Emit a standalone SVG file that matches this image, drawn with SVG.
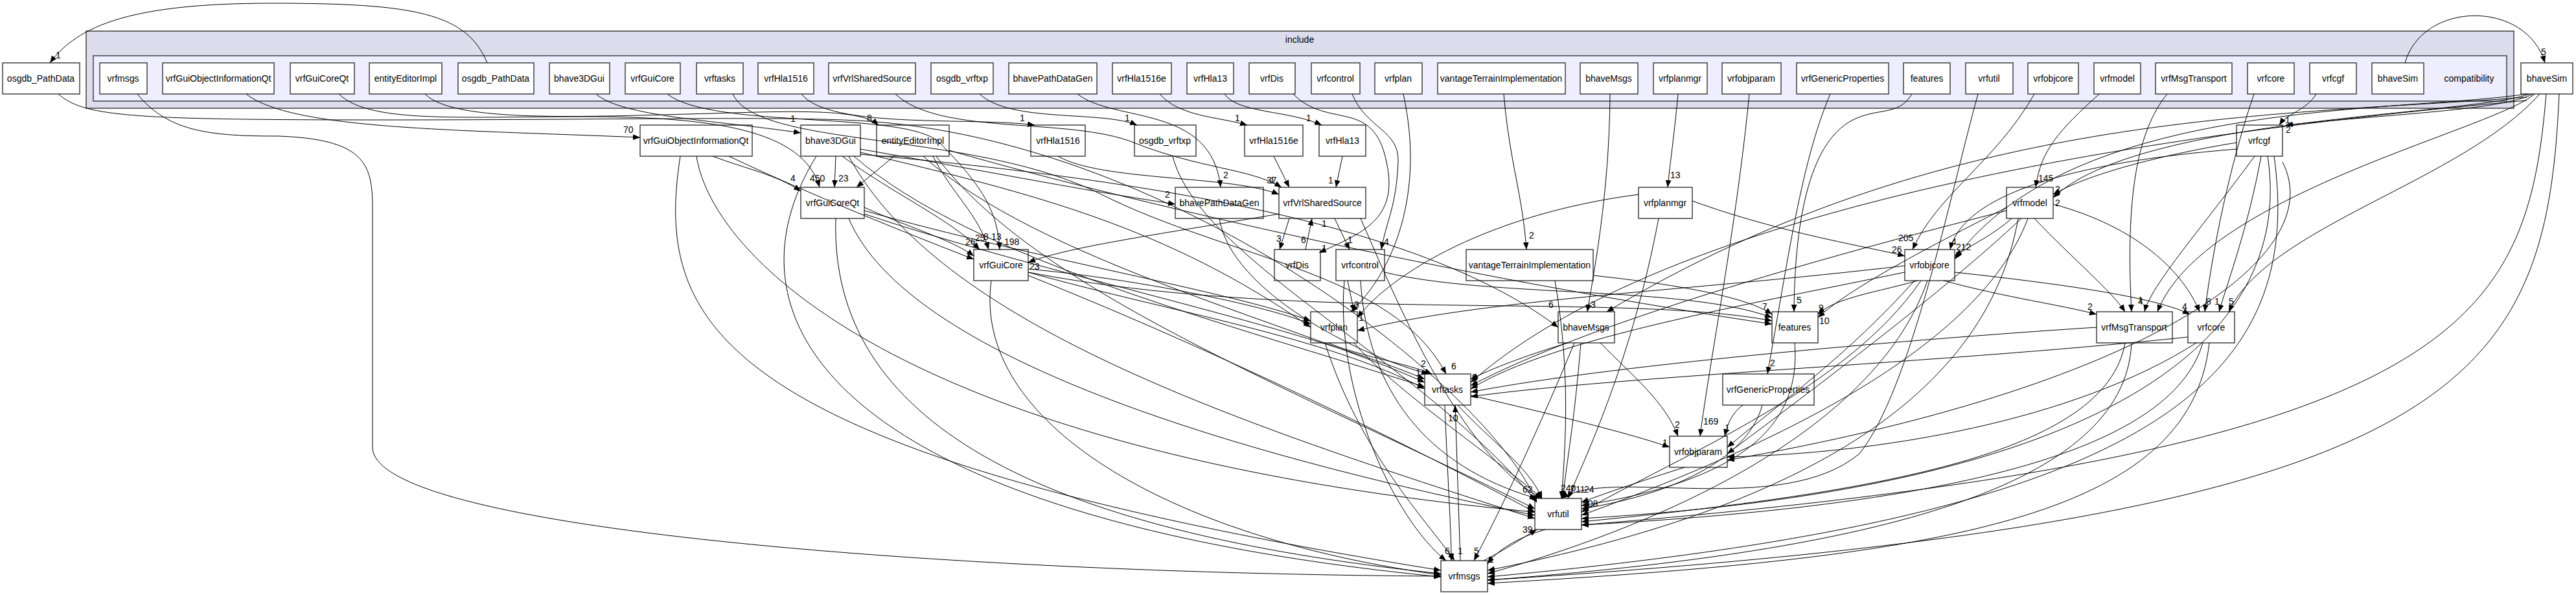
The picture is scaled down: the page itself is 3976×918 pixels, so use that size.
<svg xmlns="http://www.w3.org/2000/svg" width="3976" height="918" viewBox="0 0 3976 918">
<style>
text{font-family:"Liberation Sans",Arial,sans-serif;font-size:14px;fill:#000}
.n rect{fill:#fff;stroke:#404040;stroke-width:1.5}
.c{fill:none;stroke:#000;stroke-width:1}
.l{font-size:13px}
</style>
<defs><marker id="a" viewBox="0 0 10 10" refX="10" refY="5" markerWidth="11" markerHeight="11" markerUnits="userSpaceOnUse" orient="auto"><path d="M0,1 L10,5 L0,9z" fill="#000"/></marker></defs>
<rect width="3976" height="918" fill="#fff"/>
<g id="cluster-include"><rect x="133" y="48" width="3747" height="119" fill="#ddddee" stroke="#404040" stroke-width="1.5"/><text x="2006" y="66" text-anchor="middle">include</text></g>
<g id="cluster-compatibility"><rect x="144" y="86" width="3725" height="70" fill="#eeeeff" stroke="#404040" stroke-width="1.5"/><text x="3811" y="126" text-anchor="middle">compatibility</text></g>
<g text-anchor="middle">
<g id="i_vrfmsgs" class="n"><rect x="154" y="97" width="73" height="48"/><text x="190" y="126">vrfmsgs</text></g>
<g id="i_vrfGuiObjectInformationQt" class="n"><rect x="251" y="97" width="172" height="48"/><text x="337" y="126">vrfGuiObjectInformationQt</text></g>
<g id="i_vrfGuiCoreQt" class="n"><rect x="448" y="97" width="99" height="48"/><text x="497" y="126">vrfGuiCoreQt</text></g>
<g id="i_entityEditorImpl" class="n"><rect x="570" y="97" width="112" height="48"/><text x="626" y="126">entityEditorImpl</text></g>
<g id="i_osgdb_PathData" class="n"><rect x="707" y="97" width="117" height="48"/><text x="765" y="126">osgdb_PathData</text></g>
<g id="i_bhave3DGui" class="n"><rect x="848" y="97" width="93" height="48"/><text x="894" y="126">bhave3DGui</text></g>
<g id="i_vrfGuiCore" class="n"><rect x="965" y="97" width="85" height="48"/><text x="1007" y="126">vrfGuiCore</text></g>
<g id="i_vrftasks" class="n"><rect x="1075" y="97" width="72" height="48"/><text x="1111" y="126">vrftasks</text></g>
<g id="i_vrfHla1516" class="n"><rect x="1170" y="97" width="86" height="48"/><text x="1213" y="126">vrfHla1516</text></g>
<g id="i_vrfVrlSharedSource" class="n"><rect x="1279" y="97" width="134" height="48"/><text x="1346" y="126">vrfVrlSharedSource</text></g>
<g id="i_osgdb_vrftxp" class="n"><rect x="1437" y="97" width="96" height="48"/><text x="1485" y="126">osgdb_vrftxp</text></g>
<g id="i_bhavePathDataGen" class="n"><rect x="1557" y="97" width="136" height="48"/><text x="1625" y="126">bhavePathDataGen</text></g>
<g id="i_vrfHla1516e" class="n"><rect x="1717" y="97" width="91" height="48"/><text x="1762" y="126">vrfHla1516e</text></g>
<g id="i_vrfHla13" class="n"><rect x="1832" y="97" width="72" height="48"/><text x="1868" y="126">vrfHla13</text></g>
<g id="i_vrfDis" class="n"><rect x="1928" y="97" width="71" height="48"/><text x="1963" y="126">vrfDis</text></g>
<g id="i_vrfcontrol" class="n"><rect x="2024" y="97" width="75" height="48"/><text x="2061" y="126">vrfcontrol</text></g>
<g id="i_vrfplan" class="n"><rect x="2122" y="97" width="73" height="48"/><text x="2158" y="126">vrfplan</text></g>
<g id="i_vantageTerrainImplementation" class="n"><rect x="2219" y="97" width="197" height="48"/><text x="2317" y="126">vantageTerrainImplementation</text></g>
<g id="i_bhaveMsgs" class="n"><rect x="2439" y="97" width="89" height="48"/><text x="2483" y="126">bhaveMsgs</text></g>
<g id="i_vrfplanmgr" class="n"><rect x="2552" y="97" width="83" height="48"/><text x="2593" y="126">vrfplanmgr</text></g>
<g id="i_vrfobjparam" class="n"><rect x="2658" y="97" width="91" height="48"/><text x="2703" y="126">vrfobjparam</text></g>
<g id="i_vrfGenericProperties" class="n"><rect x="2773" y="97" width="142" height="48"/><text x="2844" y="126">vrfGenericProperties</text></g>
<g id="i_features" class="n"><rect x="2938" y="97" width="72" height="48"/><text x="2974" y="126">features</text></g>
<g id="i_vrfutil" class="n"><rect x="3034" y="97" width="73" height="48"/><text x="3070" y="126">vrfutil</text></g>
<g id="i_vrfobjcore" class="n"><rect x="3130" y="97" width="78" height="48"/><text x="3169" y="126">vrfobjcore</text></g>
<g id="i_vrfmodel" class="n"><rect x="3232" y="97" width="72" height="48"/><text x="3268" y="126">vrfmodel</text></g>
<g id="i_vrfMsgTransport" class="n"><rect x="3327" y="97" width="118" height="48"/><text x="3386" y="126">vrfMsgTransport</text></g>
<g id="i_vrfcore" class="n"><rect x="3469" y="97" width="72" height="48"/><text x="3505" y="126">vrfcore</text></g>
<g id="i_vrfcgf" class="n"><rect x="3565" y="97" width="72" height="48"/><text x="3601" y="126">vrfcgf</text></g>
<g id="i_bhaveSim" class="n"><rect x="3661" y="97" width="80" height="48"/><text x="3701" y="126">bhaveSim</text></g>

<g id="osgdb_PathData" class="n"><rect x="4" y="97" width="119" height="48"/><text x="63" y="126">osgdb_PathData</text></g>
<g id="bhaveSim" class="n"><rect x="3891" y="97" width="80" height="48"/><text x="3931" y="126">bhaveSim</text></g>
<g id="vrfGuiObjectInformationQt" class="n"><rect x="988" y="193" width="173" height="48"/><text x="1074" y="222">vrfGuiObjectInformationQt</text></g>
<g id="bhave3DGui" class="n"><rect x="1236" y="193" width="92" height="48"/><text x="1282" y="222">bhave3DGui</text></g>
<g id="entityEditorImpl" class="n"><rect x="1353" y="193" width="112" height="48"/><text x="1409" y="222">entityEditorImpl</text></g>
<g id="vrfHla1516" class="n"><rect x="1591" y="193" width="84" height="48"/><text x="1633" y="222">vrfHla1516</text></g>
<g id="osgdb_vrftxp" class="n"><rect x="1751" y="193" width="95" height="48"/><text x="1798" y="222">osgdb_vrftxp</text></g>
<g id="vrfHla1516e" class="n"><rect x="1921" y="193" width="90" height="48"/><text x="1966" y="222">vrfHla1516e</text></g>
<g id="vrfHla13" class="n"><rect x="2036" y="193" width="72" height="48"/><text x="2072" y="222">vrfHla13</text></g>
<g id="vrfcgf" class="n"><rect x="3452" y="193" width="71" height="48"/><text x="3487" y="222">vrfcgf</text></g>
<g id="vrfGuiCoreQt" class="n"><rect x="1236" y="289" width="98" height="48"/><text x="1285" y="318">vrfGuiCoreQt</text></g>
<g id="bhavePathDataGen" class="n"><rect x="1814" y="289" width="136" height="48"/><text x="1882" y="318">bhavePathDataGen</text></g>
<g id="vrfVrlSharedSource" class="n"><rect x="1974" y="289" width="134" height="48"/><text x="2041" y="318">vrfVrlSharedSource</text></g>
<g id="vrfplanmgr" class="n"><rect x="2529" y="289" width="83" height="48"/><text x="2570" y="318">vrfplanmgr</text></g>
<g id="vrfmodel" class="n"><rect x="3097" y="289" width="72" height="48"/><text x="3133" y="318">vrfmodel</text></g>
<g id="vrfGuiCore" class="n"><rect x="1503" y="385" width="84" height="48"/><text x="1545" y="414">vrfGuiCore</text></g>
<g id="vrfDis" class="n"><rect x="1967" y="385" width="71" height="48"/><text x="2002" y="414">vrfDis</text></g>
<g id="vrfcontrol" class="n"><rect x="2062" y="385" width="75" height="48"/><text x="2099" y="414">vrfcontrol</text></g>
<g id="vantageTerrainImplementation" class="n"><rect x="2263" y="385" width="196" height="48"/><text x="2361" y="414">vantageTerrainImplementation</text></g>
<g id="vrfobjcore" class="n"><rect x="2940" y="385" width="77" height="48"/><text x="2978" y="414">vrfobjcore</text></g>
<g id="vrfplan" class="n"><rect x="2023" y="481" width="72" height="48"/><text x="2059" y="510">vrfplan</text></g>
<g id="bhaveMsgs" class="n"><rect x="2405" y="481" width="87" height="48"/><text x="2448" y="510">bhaveMsgs</text></g>
<g id="features" class="n"><rect x="2735" y="481" width="71" height="48"/><text x="2770" y="510">features</text></g>
<g id="vrfMsgTransport" class="n"><rect x="3236" y="481" width="117" height="48"/><text x="3294" y="510">vrfMsgTransport</text></g>
<g id="vrfcore" class="n"><rect x="3377" y="481" width="72" height="48"/><text x="3413" y="510">vrfcore</text></g>
<g id="vrftasks" class="n"><rect x="2199" y="577" width="71" height="48"/><text x="2234" y="606">vrftasks</text></g>
<g id="vrfGenericProperties" class="n"><rect x="2659" y="577" width="141" height="48"/><text x="2729" y="606">vrfGenericProperties</text></g>
<g id="vrfobjparam" class="n"><rect x="2577" y="673" width="89" height="48"/><text x="2621" y="702">vrfobjparam</text></g>
<g id="vrfutil" class="n"><rect x="2369" y="769" width="72" height="48"/><text x="2405" y="798">vrfutil</text></g>
<g id="vrfmsgs" class="n"><rect x="2224" y="865" width="72" height="48"/><text x="2260" y="894">vrfmsgs</text></g>
</g>

<g id="connectors" class="c" marker-end="url(#a)">
<path d="M752,97 C720,20 640,5 420,5 C200,5 120,40 77,97"/>
<path d="M3712,97 C3740,0 3900,0 3928,97"/>
<path d="M212,145 C260,205 330,210 430,210 C560,215 575,250 575,320 L575,690 C575,820 1500,885 2224,889"/>
<path d="M380,145 C450,200 700,200 988,212"/>
<path d="M523,145 C570,190 700,180 900,180 C1100,180 1240,200 1265,289"/>
<path d="M656,145 C700,190 900,180 1100,175 C1250,170 1330,170 1356,193"/>
<path d="M920,145 C960,180 1100,185 1236,205"/>
<path d="M1030,145 C1100,200 1400,170 1450,220 C1520,290 1540,330 1543,385"/>
<path d="M1131,145 C1170,230 1500,200 1700,300 C1900,400 2150,420 2232,577"/>
<path d="M1237,145 C1280,200 1500,180 1597,193"/>
<path d="M1382,145 C1450,210 1650,180 1750,220 C1850,260 1930,260 1978,289"/>
<path d="M1512,145 C1560,190 1700,170 1755,193"/>
<path d="M1663,145 C1720,190 1870,160 1884,289"/>
<path d="M1790,145 C1820,180 1880,180 1925,193"/>
<path d="M1890,145 C1910,175 1990,170 2040,193"/>
<path d="M1996,145 C2050,200 2120,150 2140,250 C2160,340 2100,360 2036,390"/>
<path d="M2087,145 C2110,200 2160,200 2158,250 C2155,320 2140,340 2132,385"/>
<path d="M2166,145 C2200,300 2150,420 2085,481"/>
<path d="M2321,145 C2330,250 2350,300 2356,385"/>
<path d="M2485,145 C2484,300 2460,420 2450,481"/>
<path d="M2590,145 C2585,200 2578,250 2574,289"/>
<path d="M2700,145 C2680,350 2640,550 2624,673"/>
<path d="M2825,145 C2780,250 2760,400 2728,577"/>
<path d="M2951,145 C2930,180 2900,165 2860,185 C2790,220 2770,350 2769,481"/>
<path d="M3053,145 C3010,300 2950,600 2870,700 C2750,800 2480,720 2410,769"/>
<path d="M3140,145 C3080,250 2990,300 2952,385"/>
<path d="M3240,145 C3180,200 3150,230 3142,289"/>
<path d="M3345,145 C3300,200 3280,300 3290,481"/>
<path d="M3479,145 C3450,230 3420,350 3403,481"/>
<path d="M3575,145 C3560,170 3530,175 3518,193"/>
<path d="M90,145 C130,180 200,185 600,185 C900,185 1180,180 1300,185 C1800,200 2300,600 2372,775"/>
<path d="M1100,241 C1150,260 1200,270 1236,295"/>
<path d="M1125,241 C1250,300 1400,360 1503,400"/>
<path d="M1075,241 C1100,400 1400,700 2369,790"/>
<path d="M1050,241 C1010,500 1100,700 2224,880"/>
<path d="M1290,241 L1288,289"/>
<path d="M1300,241 C1380,300 1470,340 1512,385"/>
<path d="M1328,230 C1500,260 1650,290 1814,315"/>
<path d="M1328,235 C1600,300 1800,350 2023,505"/>
<path d="M1328,238 C1800,280 2200,350 2405,505"/>
<path d="M1318,241 C1500,400 1900,500 2199,597"/>
<path d="M1310,241 C1450,500 1900,650 2369,800"/>
<path d="M1260,241 C1100,500 1300,800 2224,890"/>
<path d="M1380,241 L1322,289"/>
<path d="M1440,241 C1470,300 1510,330 1526,385"/>
<path d="M1425,241 C1600,400 2000,500 2199,590"/>
<path d="M1445,241 C1600,450 2000,600 2369,785"/>
<path d="M1465,232 C1700,300 2200,420 2735,500"/>
<path d="M1334,320 C1400,350 1470,370 1503,395"/>
<path d="M1334,325 C1600,400 1900,450 2023,495"/>
<path d="M1334,330 C1600,420 2000,500 2199,585"/>
<path d="M1310,337 C1400,550 1900,700 2369,795"/>
<path d="M1290,337 C1280,650 1600,820 2224,885"/>
<path d="M1633,241 C1700,280 1900,270 1974,300"/>
<path d="M1810,241 C1850,400 2200,560 2372,775"/>
<path d="M1966,241 L1990,289"/>
<path d="M2072,241 L2062,289"/>
<path d="M1974,330 C1800,360 1650,380 1587,405"/>
<path d="M1990,337 L1975,385"/>
<path d="M2060,337 L2083,385"/>
<path d="M2015,385 L2025,337"/>
<path d="M2100,337 C2150,450 2250,700 2380,769"/>
<path d="M1882,337 C1900,450 2100,550 2205,577"/>
<path d="M1587,415 C1750,430 1950,470 2023,500"/>
<path d="M1587,420 C1800,480 2050,520 2199,600"/>
<path d="M1587,425 C1900,550 2200,700 2369,790"/>
<path d="M1530,433 C1500,650 1800,830 2224,887"/>
<path d="M1587,420 C2000,500 2500,450 2735,495"/>
<path d="M2080,433 L2090,481"/>
<path d="M2100,433 C2110,600 2200,720 2372,769"/>
<path d="M2075,433 C2060,600 2150,800 2232,865"/>
<path d="M2137,420 C2300,460 2600,440 2735,490"/>
<path d="M2529,300 C2300,330 2150,420 2095,490"/>
<path d="M2612,310 C2750,360 2880,380 2940,395"/>
<path d="M2560,337 C2520,550 2450,700 2420,769"/>
<path d="M2400,433 C2420,550 2420,650 2410,769"/>
<path d="M2459,425 C2600,440 2700,460 2735,485"/>
<path d="M2940,410 C2600,450 2300,460 2095,510"/>
<path d="M2960,433 C2900,450 2830,460 2806,485"/>
<path d="M2940,420 C2700,470 2400,520 2270,600"/>
<path d="M2955,433 C2850,550 2750,620 2666,690"/>
<path d="M2965,433 C2850,600 2600,700 2441,790"/>
<path d="M2975,433 C2900,650 2600,800 2296,885"/>
<path d="M3000,433 C3100,460 3180,470 3236,485"/>
<path d="M3017,420 C3200,440 3330,460 3380,485"/>
<path d="M3105,337 C3080,360 3040,380 3017,395"/>
<path d="M3097,320 C3000,370 2860,440 2806,490"/>
<path d="M3097,325 C2800,400 2450,500 2270,595"/>
<path d="M3120,337 C3000,450 2800,600 2666,700"/>
<path d="M3130,337 C3050,550 2700,700 2441,795"/>
<path d="M3140,337 C3200,400 3260,450 3280,481"/>
<path d="M3169,315 C3300,350 3370,420 3395,481"/>
<path d="M3115,337 C3060,650 2700,800 2296,880"/>
<path d="M3452,220 C3330,240 3220,270 3169,300"/>
<path d="M3452,230 C3200,250 3030,300 3010,385"/>
<path d="M3480,241 C3400,350 3320,440 3310,481"/>
<path d="M3490,241 C3470,350 3440,430 3425,481"/>
<path d="M3500,241 C3540,500 3300,750 2441,800"/>
<path d="M3510,241 C3560,600 3300,800 2296,890"/>
<path d="M3523,250 C3600,400 3300,600 2666,710"/>
<path d="M3910,145 C3860,170 3700,175 3528,193"/>
<path d="M3905,145 C3800,180 3300,180 3169,305"/>
<path d="M3900,145 C3700,175 3200,150 3017,400"/>
<path d="M3900,150 C3500,180 3000,170 2480,481"/>
<path d="M3912,145 C3850,200 3400,300 3330,481"/>
<path d="M3920,145 C3800,280 3500,350 3440,481"/>
<path d="M3930,145 C3900,500 3800,700 2441,810"/>
<path d="M3950,145 C3930,600 3800,800 2296,895"/>
<path d="M3900,155 C3400,200 2600,300 2270,590"/>
<path d="M2050,529 C2100,550 2170,560 2210,577"/>
<path d="M2090,529 C2150,600 2300,700 2380,769"/>
<path d="M2045,529 C2100,700 2200,800 2245,865"/>
<path d="M2420,529 C2350,550 2300,570 2270,585"/>
<path d="M2470,529 C2520,580 2570,620 2590,673"/>
<path d="M2440,529 C2430,650 2420,700 2412,769"/>
<path d="M2430,529 C2380,650 2320,780 2275,865"/>
<path d="M2270,610 C2400,640 2520,670 2577,690"/>
<path d="M2250,625 C2300,680 2360,720 2380,769"/>
<path d="M2230,625 C2235,750 2240,820 2240,865"/>
<path d="M2254,865 L2246,625"/>
<path d="M2690,625 C2670,640 2665,660 2662,673"/>
<path d="M2720,625 C2700,700 2600,760 2441,785"/>
<path d="M2770,529 C2780,650 2700,740 2441,780"/>
<path d="M2600,721 C2540,740 2480,760 2441,775"/>
<path d="M3236,505 C3000,520 2500,560 2270,605"/>
<path d="M3280,529 C3250,700 2900,760 2441,805"/>
<path d="M3290,529 C3280,750 2900,850 2296,895"/>
<path d="M3377,520 C3000,560 2500,580 2270,612"/>
<path d="M3390,529 C3200,650 2900,700 2666,705"/>
<path d="M3400,529 C3350,700 3000,780 2441,810"/>
<path d="M3410,529 C3380,800 3000,860 2296,900"/>
<path d="M2385,817 C2340,830 2310,850 2296,870"/>
<path d="M2290,865 C2320,850 2350,830 2372,817"/>
</g>
<g id="labels" class="l">
<text x="86" y="90">1</text><text x="3922" y="85">5</text><text x="962" y="205">70</text>
<text x="1250" y="280">450</text><text x="1338" y="187">8</text><text x="1220" y="188">1</text><text x="1550" y="378">198</text>
<text x="2240" y="570">6</text><text x="1574" y="187">1</text><text x="1955" y="283">37</text><text x="1736" y="187">1</text>
<text x="1888" y="275">2</text><text x="1906" y="187">1</text><text x="2016" y="187">1</text><text x="2040" y="388">1</text>
<text x="2136" y="378">4</text><text x="2090" y="475">3</text><text x="2360" y="368">2</text><text x="2455" y="475">3</text>
<text x="2578" y="275">13</text><text x="2629" y="655">169</text><text x="2732" y="565">2</text><text x="2773" y="468">5</text>
<text x="2409" y="758">240</text><text x="2930" y="372">205</text><text x="3146" y="280">145</text><text x="3300" y="470">4</text>
<text x="3405" y="470">8</text><text x="3527" y="190">1</text><text x="1220" y="280">4</text><text x="1294" y="280">23</text>
<text x="1490" y="378">26</text><text x="1505" y="372">25</text><text x="1518" y="370">8</text><text x="1530" y="370">13</text>
<text x="1798" y="305">2</text><text x="2008" y="375">6</text><text x="2390" y="475">6</text><text x="1589" y="416">23</text>
<text x="1970" y="373">3</text><text x="2040" y="350">1</text><text x="2080" y="375">1</text><text x="1960" y="283">1</text>
<text x="2050" y="283">1</text><text x="2097" y="495">1</text><text x="2920" y="390">26</text><text x="2720" y="478">7</text>
<text x="2807" y="480">9</text><text x="2808" y="500">10</text><text x="3019" y="386">212</text><text x="3222" y="478">2</text>
<text x="3368" y="478">4</text><text x="3172" y="297">2</text><text x="3172" y="318">2</text><text x="3528" y="205">2</text>
<text x="3012" y="378">4</text><text x="3300" y="468">1</text><text x="3418" y="470">1</text><text x="3440" y="470">5</text>
<text x="2193" y="566">2</text><text x="2185" y="580">1</text><text x="2272" y="587">9</text><text x="2585" y="660">2</text>
<text x="2566" y="688">1</text><text x="2662" y="665">1</text><text x="2350" y="760">62</text><text x="2423" y="760">7</text>
<text x="2432" y="760">11</text><text x="2445" y="760">24</text><text x="2443" y="782">508</text><text x="2230" y="855">6</text>
<text x="2250" y="855">1</text><text x="2275" y="855">5</text><text x="2235" y="650">10</text><text x="2350" y="822">39</text>
<text x="2298" y="868">1</text>
</g>
</svg>
